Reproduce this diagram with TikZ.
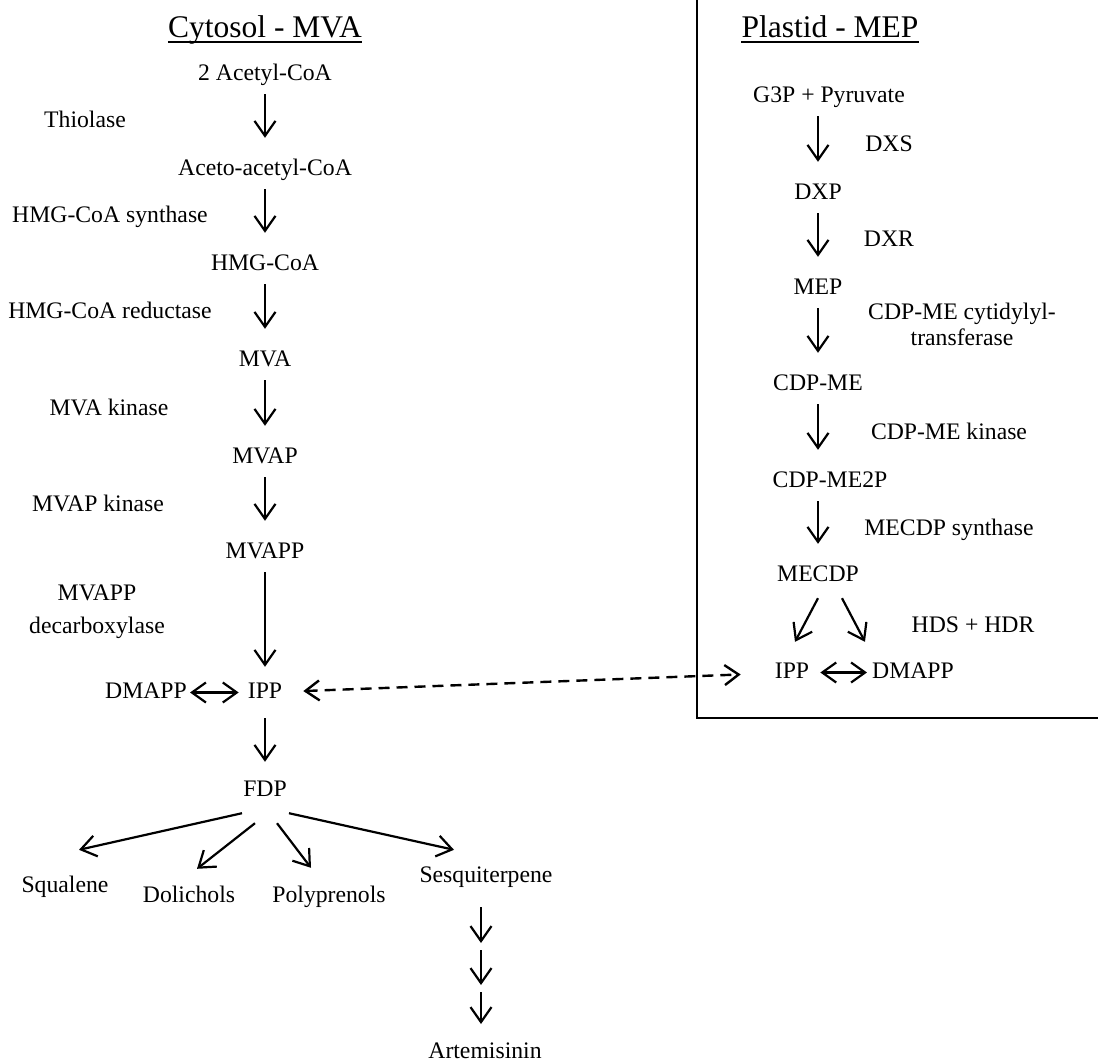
\documentclass[tikz,border=0pt]{standalone}
\usepackage{fontspec}
\setmainfont{Liberation Serif}
\usetikzlibrary{arrows.meta}

\begin{document}
\begin{tikzpicture}[x=1pt,y=-1pt,
  every node/.style={font=\fontsize{23.7pt}{28pt}\selectfont, inner sep=0pt},
  cmp/.style={anchor=base, text height=16pt, text depth=5pt},
  enz/.style={anchor=base},
  ttl/.style={anchor=base, font=\fontsize{31.5pt}{36pt}\selectfont},
  flow/.style={-{Straight Barb[length=15pt,width=21pt]}, line width=2.2pt, shorten <=9pt, shorten >=21pt},
  fan/.style={flow, shorten <=0pt, shorten >=0pt},
  dflow/.style={{Straight Barb[length=14pt,width=20pt]}-{Straight Barb[length=14pt,width=20pt]}, line width=2.2pt},
  dashflow/.style={dflow, line width=2.4pt, dash pattern=on 11pt off 7pt}]
   \useasboundingbox (0,0) rectangle (1098,1061);
   \clip (0,0) rectangle (1098,1061);
   % plastid box
   \draw[line width=2.2pt] (697,-5) -- (697,718) -- (1105,718);
   \node[ttl] (cyt) at (265,37) {Cytosol - MVA};
   \node[ttl] (pla) at (830,37) {Plastid - MEP};
   \foreach \t in {cyt,pla}
      \draw[line width=1.6pt] ([yshift=-5pt]\t.base west) -- ([yshift=-5pt]\t.base east);
   % MVA pathway
   \node[cmp] (acoa) at (265,80) {2 Acetyl-CoA};
   \node[cmp] (aacoa) at (265,175) {Aceto-acetyl-CoA};
   \node[cmp] (hmg) at (265,270) {HMG-CoA};
   \node[cmp] (mva) at (265,366) {MVA};
   \node[cmp] (mvap) at (265,463) {MVAP};
   \node[cmp] (mvapp) at (265,558) {MVAPP};
   \node[cmp] (ipp) at (265,698) {IPP};
   \node[cmp] (dmapp) at (146,698) {DMAPP};
   \node[cmp] (fdp) at (265,796) {FDP};
   \node[enz] (thio) at (85,127) {Thiolase};
   \node[enz] (hmgs) at (110,222) {HMG-CoA synthase};
   \node[enz] (hmgr) at (110,318) {HMG-CoA reductase};
   \node[enz] (mvak) at (109,415) {MVA kinase};
   \node[enz] (mvapk) at (98,511) {MVAP kinase};
   \node[align=center, font=\fontsize{23.7pt}{33pt}\selectfont] (mvad) at (97,612) {MVAPP\\decarboxylase};
   \foreach \a/\b in {acoa/aacoa,aacoa/hmg,hmg/mva,mva/mvap,mvap/mvapp}
      \draw[flow] (\a) -- (\b);
   \draw[flow, shorten >=15pt] (mvapp) -- (ipp);
   \draw[flow, shorten <=15pt, shorten >=18pt] (ipp) -- (fdp);
   \draw[dflow, shorten <=3pt, shorten >=9pt] (dmapp) -- (ipp);
   % MEP pathway
   \node[cmp] (g3p) at (829,102) {G3P + Pyruvate};
   \node[cmp] (dxp) at (818,199) {DXP};
   \node[cmp] (mep) at (818,294) {MEP};
   \node[cmp] (cdpme) at (818,390) {CDP-ME};
   \node[cmp] (cdpme2p) at (830,487) {CDP-ME2P};
   \node[cmp] (mecdp) at (818,581) {MECDP};
   \node[cmp] (ipp2) at (792,678) {IPP};
   \node[cmp] (dmapp2) at (913,678) {DMAPP};
   \node[enz] (dxs) at (889,151) {DXS};
   \node[enz] (dxr) at (889,246) {DXR};
   \node[align=center, font=\fontsize{23.7pt}{26pt}\selectfont] (cmt) at (962,324) {CDP-ME cytidylyl-\\transferase};
   \node[enz] (cmk) at (949,439) {CDP-ME kinase};
   \node[enz] (mcs) at (949,535) {MECDP synthase};
   \node[enz] (hds) at (973,632) {HDS + HDR};
   \draw[flow] (g3p.south -| dxp) -- (dxp);
   \draw[flow] (dxp) -- (mep);
   \draw[flow] (mep) -- (cdpme);
   \draw[flow] (cdpme) -- (cdpme2p.north -| cdpme);
   \draw[flow] (cdpme2p.south -| mecdp) -- (mecdp);
   \draw[fan] ([shift={(0,12)}]mecdp.south) -- ([shift={(3,-20)}]ipp2.north);
   \draw[fan] ([shift={(24,12)}]mecdp.south) -- ([shift={(-7,-20)}]dmapp2.north west);
   \draw[dflow, shorten <=11pt, shorten >=5pt] (ipp2) -- (dmapp2);
   \draw[dashflow, shorten <=21pt, shorten >=34pt] (ipp) -- (ipp2);
   % products of FDP
   \node[cmp] (squa) at (65,892) {Squalene};
   \node[cmp] (doli) at (189,902) {Dolichols};
   \node[cmp] (poly) at (329,902) {Polyprenols};
   \node[cmp] (sesq) at (486,882) {Sesquiterpene};
   \node[cmp] (arte) at (485,1058) {Artemisinin};
   \draw[fan] ([shift={(-23,12)}]fdp.south) -- ([shift={(14,-26)}]squa.north);
   \draw[fan] ([shift={(-10,22)}]fdp.south) -- ([shift={(8,-17)}]doli.north);
   \draw[fan] ([shift={(12,22)}]fdp.south) -- ([shift={(-18,-18)}]poly.north);
   \draw[fan] ([shift={(24,12)}]fdp.south) -- ([shift={(-32,-16)}]sesq.north);
   \foreach \i/\s/\e in {1/907/943,2/950/985,3/992/1024} {
      \coordinate (t\i) at (481,\s);
      \coordinate (b\i) at (481,\e);
      \draw[fan] (t\i) -- (b\i);
   }
\end{tikzpicture}
\end{document}
